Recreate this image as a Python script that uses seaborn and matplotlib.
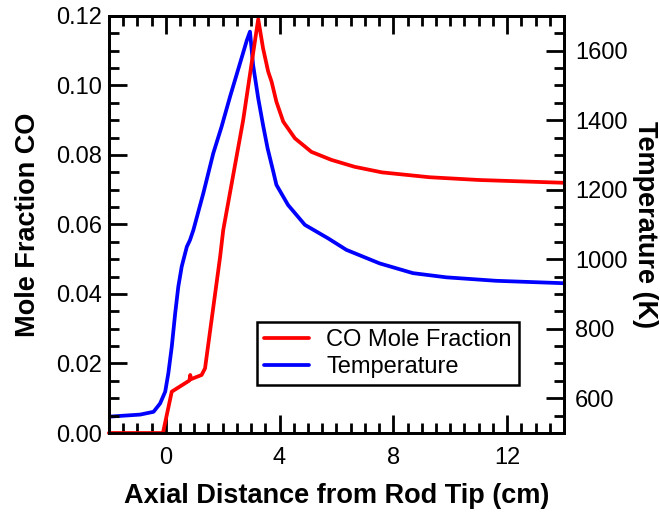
import matplotlib
matplotlib.use("Agg")
import matplotlib.pyplot as plt
import numpy as np
import pandas as pd
import seaborn as sns
from matplotlib.ticker import MultipleLocator, FormatStrFormatter

# CO mole fraction vs axial distance (left axis)
co_x = [-2.0, -0.1, 0.21, 0.83, 0.86, 0.89, 1.26, 1.38, 1.91, 2.02, 2.72, 3.25,
        3.42, 3.6, 3.72, 3.89, 4.13, 4.54, 5.12, 5.82, 6.64, 7.6, 9.27, 11.03, 14.0]
co_y = [0.0, 0.0, 0.0119, 0.0151, 0.0167, 0.0155, 0.0167, 0.0186, 0.0507, 0.0584, 0.0900, 0.1191,
        0.1107, 0.1040, 0.1011, 0.0953, 0.0896, 0.0848, 0.0809, 0.0786, 0.0766, 0.0750, 0.0736, 0.0728, 0.0720]

# temperature vs axial distance (right axis)
t_x = [-2.0, -0.9, -0.43, -0.2, -0.02, 0.09, 0.21, 0.33, 0.44, 0.56, 0.74, 0.85,
       0.97, 1.32, 1.67, 1.96, 2.26, 2.61, 2.85, 2.96, 3.07, 3.25, 3.42, 3.58,
       3.78, 3.89, 4.3, 4.89, 5.71, 6.35, 7.52, 8.69, 9.86, 11.61, 14.0]
t_y = [547, 553, 561, 585, 619, 672, 748, 844, 921, 979, 1036, 1055,
       1084, 1190, 1305, 1381, 1468, 1564, 1630, 1655, 1559, 1463, 1386, 1319,
       1252, 1214, 1156, 1099, 1060, 1027, 988, 960, 948, 938, 931]

co_df = pd.DataFrame({"x": co_x, "y": co_y})
t_df = pd.DataFrame({"x": t_x, "y": t_y})

sns.set_theme(style="ticks", rc={"text.color": "black", "axes.labelcolor": "black",
                                 "xtick.color": "black", "ytick.color": "black",
                                 "axes.edgecolor": "black"})
plt.rcParams['font.family'] = ['Liberation Sans', 'DejaVu Sans']
plt.rcParams['axes.linewidth'] = 2.0

fig = plt.figure(figsize=(6.6, 5.19), dpi=100)
ax = fig.add_axes([0.165, 0.1657, 0.6895, 0.8035])
ax2 = ax.twinx()

sns.lineplot(data=co_df, x="x", y="y", ax=ax, color="#ff0000", linewidth=2.7,
             sort=False, estimator=None, clip_on=False, label="CO Mole Fraction", legend=False)
sns.lineplot(data=t_df, x="x", y="y", ax=ax2, color="#0000ff", linewidth=2.7,
             sort=False, estimator=None, label="Temperature", legend=False)

# red on top of blue
ax.set_zorder(ax2.get_zorder() + 1)
ax.patch.set_visible(False)

ax.set_xlim(-2, 14)
ax.set_ylim(0, 0.12)
ax2.set_ylim(500, 1700)

ax.xaxis.set_major_locator(MultipleLocator(4))
ax.xaxis.set_minor_locator(MultipleLocator(0.5))
ax.yaxis.set_major_locator(MultipleLocator(0.02))
ax.yaxis.set_minor_locator(MultipleLocator(0.005))
ax.yaxis.set_major_formatter(FormatStrFormatter("%.2f"))
ax2.set_yticks([600, 800, 1000, 1200, 1400, 1600])
ax2.yaxis.set_minor_locator(MultipleLocator(50))

ax.tick_params(axis="both", which="major", direction="in", length=13, width=2,
               labelsize=17, top=True, right=False)
ax.tick_params(axis="both", which="minor", direction="in", length=7, width=2,
               top=True, right=False)
ax.tick_params(axis="x", which="major", pad=10)
ax.tick_params(axis="y", which="major", pad=5)
ax2.tick_params(axis="y", which="major", direction="in", length=13, width=2,
                labelsize=17, pad=8)
ax2.tick_params(axis="y", which="minor", direction="in", length=7, width=2)
for sp in ax2.spines.values():
    sp.set_linewidth(2.0)

ax.set_xlabel("Axial Distance from Rod Tip (cm)", fontsize=19.5, fontweight="bold", labelpad=10)
ax.set_ylabel("Mole Fraction CO", fontsize=19.5, fontweight="bold", labelpad=11)
ax2.set_ylabel("Temperature (K)", fontsize=19.5, fontweight="bold", rotation=270, labelpad=22)

h1, l1 = ax.get_legend_handles_labels()
h2, l2 = ax2.get_legend_handles_labels()
leg = ax.legend(h1 + h2, l1 + l2, loc="lower left", bbox_to_anchor=(0.325, 0.115),
                borderaxespad=0, fontsize=17, frameon=True, fancybox=False,
                edgecolor="black", framealpha=1, handlelength=1.9, handletextpad=0.75,
                labelspacing=0.2, borderpad=0.3)
leg.get_frame().set_linewidth(1.8)

plt.savefig("out.png", dpi=100)
